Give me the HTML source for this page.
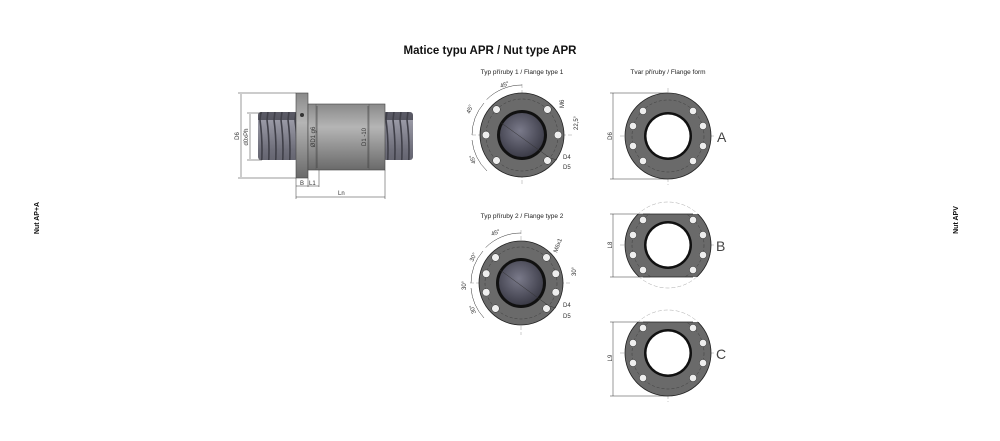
<!DOCTYPE html>
<html><head><meta charset="utf-8"><style>
html,body{margin:0;padding:0;background:#fff;}
svg{display:block;font-family:"Liberation Sans",sans-serif;}
</style></head><body>
<svg width="1000" height="441" viewBox="0 0 1000 441" xmlns="http://www.w3.org/2000/svg">
<defs>
<linearGradient id="thr" x1="0" y1="0" x2="0" y2="1">
<stop offset="0" stop-color="#9a9aa6"/><stop offset="0.5" stop-color="#6e6e7a"/><stop offset="1" stop-color="#555560"/></linearGradient>
<linearGradient id="bod" x1="0" y1="0" x2="0" y2="1">
<stop offset="0" stop-color="#8a8a8a"/><stop offset="0.35" stop-color="#b5b5b5"/><stop offset="1" stop-color="#6a6a6a"/></linearGradient>
<radialGradient id="bore" cx="0.45" cy="0.4" r="0.6"><stop offset="0" stop-color="#7a7a8a"/><stop offset="1" stop-color="#3c3c48"/></radialGradient>
<pattern id="ridge" width="7" height="60" patternUnits="userSpaceOnUse"><rect width="7" height="60" fill="url(#thr)"/><path d="M1 0 Q5 30 1 60" stroke="#3f3f48" stroke-width="1.6" fill="none"/></pattern>
<clipPath id="cB"><rect x="600" y="105" width="140" height="63"/></clipPath>
<clipPath id="cC"><rect x="600" y="105" width="140" height="90"/></clipPath>
</defs>
<text x="490" y="54" text-anchor="middle" font-size="11.5" font-weight="bold" fill="#111">Matice typu APR / Nut type APR</text>
<text transform="translate(39,218) rotate(-90)" text-anchor="middle" font-size="7" font-weight="bold" fill="#111">Nut AP+A</text>
<text transform="translate(958,220) rotate(-90)" text-anchor="middle" font-size="7" font-weight="bold" fill="#111">Nut APV</text>

<!-- side view -->
<rect x="258" y="112" width="40" height="48" fill="url(#ridge)" rx="3"/>
<rect x="383" y="112" width="30" height="48" fill="url(#ridge)" rx="3"/>
<rect x="296" y="93" width="12" height="85" fill="url(#bod)" stroke="#444" stroke-width="0.6"/>
<circle cx="302" cy="115" r="2" fill="#333"/>
<rect x="308" y="104" width="77" height="66" fill="url(#bod)" stroke="#444" stroke-width="0.6"/>
<line x1="316" y1="104" x2="316" y2="170" stroke="#555" stroke-width="0.5"/>
<line x1="369" y1="104" x2="369" y2="170" stroke="#555" stroke-width="0.5"/>
<g stroke="#333" stroke-width="0.5" fill="none">
<line x1="241" y1="94" x2="241" y2="177"/><line x1="238" y1="93" x2="296" y2="93"/><line x1="238" y1="178" x2="296" y2="178"/>
<line x1="250" y1="114" x2="250" y2="159"/><line x1="247" y1="113" x2="262" y2="113"/><line x1="247" y1="160" x2="262" y2="160"/>
<line x1="296" y1="178" x2="296" y2="199"/><line x1="308" y1="178" x2="308" y2="187"/><line x1="319" y1="170" x2="319" y2="187"/><line x1="385" y1="170" x2="385" y2="199"/>
<line x1="296" y1="186" x2="319" y2="186"/><line x1="296" y1="197" x2="385" y2="197"/>
<line x1="317" y1="106" x2="317" y2="168"/><line x1="368" y1="106" x2="368" y2="168"/>
</g>
<g font-size="6" fill="#333">
<text transform="translate(239,136) rotate(-90)" text-anchor="middle">D6</text>
<text transform="translate(248,137) rotate(-90)" text-anchor="middle">d0xPh</text>
<text transform="translate(315,137) rotate(-90)" text-anchor="middle">ØD1 g6</text>
<text transform="translate(366,137) rotate(-90)" text-anchor="middle">D1 -10</text>
<text x="300" y="185">B</text><text x="309" y="185">L1</text><text x="338" y="195">Ln</text>
</g>

<!-- flange type 1 -->
<text x="522" y="74" text-anchor="middle" font-size="6.5" fill="#222">Typ příruby 1 / Flange type 1</text>
<g stroke="#999" stroke-width="0.5" stroke-dasharray="4 2"><line x1="472" y1="135" x2="572" y2="135"/><line x1="522" y1="84" x2="522" y2="185"/></g>
<circle cx="522" cy="135" r="42" fill="#6a6a6a" stroke="#222" stroke-width="0.8"/>
<circle cx="522" cy="135" r="36" fill="none" stroke="#333" stroke-width="0.4" stroke-dasharray="3 2"/>
<circle cx="522" cy="135" r="25" fill="#111"/>
<circle cx="522" cy="135" r="22" fill="url(#bore)"/>
<g fill="#eee" stroke="#333" stroke-width="0.5">
<circle cx="496.5" cy="109.5" r="3.8"/><circle cx="547.5" cy="109.5" r="3.8"/><circle cx="486" cy="135" r="3.8"/><circle cx="558" cy="135" r="3.8"/><circle cx="496.5" cy="160.5" r="3.8"/><circle cx="547.5" cy="160.5" r="3.8"/></g>
<g stroke="#333" stroke-width="0.5" fill="none">
<path d="M522 85 A50 50 0 0 0 486.6 99.6"/><path d="M484 103 A50 50 0 0 0 472 135"/><path d="M472 140 A50 50 0 0 0 487 171"/>
<line x1="500" y1="122" x2="550" y2="158"/><line x1="550" y1="158" x2="557" y2="160"/>
</g>
<g font-size="6" fill="#333">
<text x="501" y="88" transform="rotate(-20 501 88)">45°</text>
<text transform="translate(470,114) rotate(-70)">45°</text>
<text transform="translate(476,163) rotate(-110)">45°</text>
<text transform="translate(564,108) rotate(-90)">M6</text>
<text transform="translate(578,130) rotate(-90)">22,5°</text>
<text x="563" y="159">D4</text><text x="563" y="169">D5</text>
</g>

<!-- flange type 2 -->
<text x="522" y="218" text-anchor="middle" font-size="6.5" fill="#222">Typ příruby 2 / Flange type 2</text>
<g stroke="#999" stroke-width="0.5" stroke-dasharray="4 2"><line x1="470" y1="283" x2="572" y2="283"/><line x1="521" y1="230" x2="521" y2="335"/></g>
<circle cx="521" cy="283" r="42" fill="#6a6a6a" stroke="#222" stroke-width="0.8"/>
<circle cx="521" cy="283" r="36" fill="none" stroke="#333" stroke-width="0.4" stroke-dasharray="3 2"/>
<circle cx="521" cy="283" r="25" fill="#111"/>
<circle cx="521" cy="283" r="22" fill="url(#bore)"/>
<g fill="#eee" stroke="#333" stroke-width="0.5">
<circle cx="495.5" cy="257.5" r="3.8"/><circle cx="546.5" cy="257.5" r="3.8"/><circle cx="486.2" cy="273.7" r="3.8"/><circle cx="555.8" cy="273.7" r="3.8"/><circle cx="486.2" cy="292.3" r="3.8"/><circle cx="555.8" cy="292.3" r="3.8"/><circle cx="495.5" cy="308.5" r="3.8"/><circle cx="546.5" cy="308.5" r="3.8"/></g>
<g stroke="#333" stroke-width="0.5" fill="none">
<path d="M521 233 A50 50 0 0 0 485.6 247.6"/><path d="M483 251 A50 50 0 0 0 471 283"/><path d="M471 288 A50 50 0 0 0 484 318"/>
<line x1="500" y1="270" x2="549" y2="306"/><line x1="549" y1="306" x2="556" y2="308"/>
</g>
<g font-size="6" fill="#333">
<text x="492" y="236" transform="rotate(-20 492 236)">45°</text>
<text transform="translate(473,262) rotate(-65)">30°</text>
<text transform="translate(466,290) rotate(-90)">30°</text>
<text transform="translate(476,313) rotate(-110)">30°</text>
<text transform="translate(557,253) rotate(-70)">M6x1</text>
<text transform="translate(576,276) rotate(-90)">30°</text>
<text x="563" y="307">D4</text><text x="563" y="318">D5</text>
</g>

<!-- flange forms -->
<text x="668" y="74" text-anchor="middle" font-size="6.5" fill="#222">Tvar příruby / Flange form</text>
<g id="fA">
<g stroke="#999" stroke-width="0.5" stroke-dasharray="4 2"><line x1="620" y1="136" x2="716" y2="136"/><line x1="668" y1="88" x2="668" y2="185"/></g>
<circle cx="668" cy="136" r="43" fill="#6a6a6a" stroke="#222" stroke-width="0.8"/>
<circle cx="668" cy="136" r="36" fill="none" stroke="#333" stroke-width="0.4" stroke-dasharray="3 2"/>
<circle cx="668" cy="136" r="24" fill="#111"/><circle cx="668" cy="136" r="21.5" fill="#fff"/>
<g fill="#eee" stroke="#333" stroke-width="0.5">
<circle cx="643" cy="111" r="3.6"/><circle cx="693" cy="111" r="3.6"/><circle cx="633" cy="126" r="3.6"/><circle cx="703" cy="126" r="3.6"/><circle cx="633" cy="146" r="3.6"/><circle cx="703" cy="146" r="3.6"/><circle cx="643" cy="161" r="3.6"/><circle cx="693" cy="161" r="3.6"/></g>
</g>
<g stroke="#333" stroke-width="0.5"><line x1="613" y1="93" x2="613" y2="179"/><line x1="610" y1="93" x2="668" y2="93"/><line x1="610" y1="179" x2="668" y2="179"/></g>
<text transform="translate(612,136) rotate(-90)" text-anchor="middle" font-size="6" fill="#333">D6</text>
<text x="717" y="142" font-size="14" fill="#444">A</text>

<circle cx="668" cy="245" r="43" fill="none" stroke="#aaa" stroke-width="0.5" stroke-dasharray="4 2"/>
<g transform="translate(0,109)"><g clip-path="url(#cB)"><use href="#fA"/></g><line x1="643" y1="105" x2="693" y2="105" stroke="#222" stroke-width="0.8"/><line x1="643" y1="168" x2="693" y2="168" stroke="#222" stroke-width="0.8"/></g>
<g stroke="#333" stroke-width="0.5"><line x1="613" y1="214" x2="613" y2="277"/><line x1="610" y1="214" x2="650" y2="214"/><line x1="610" y1="277" x2="650" y2="277"/></g>
<text transform="translate(612,245) rotate(-90)" text-anchor="middle" font-size="6" fill="#333">L8</text>
<text x="716" y="251" font-size="14" fill="#444">B</text>

<circle cx="668" cy="353" r="43" fill="none" stroke="#aaa" stroke-width="0.5" stroke-dasharray="4 2"/>
<g transform="translate(0,217)"><g clip-path="url(#cC)"><use href="#fA"/></g><line x1="643" y1="105" x2="693" y2="105" stroke="#222" stroke-width="0.8"/></g>
<g stroke="#333" stroke-width="0.5"><line x1="613" y1="322" x2="613" y2="396"/><line x1="610" y1="322" x2="650" y2="322"/><line x1="610" y1="396" x2="668" y2="396"/></g>
<text transform="translate(612,358) rotate(-90)" text-anchor="middle" font-size="6" fill="#333">L9</text>
<text x="716" y="359" font-size="14" fill="#444">C</text>
</svg>
</body></html>
